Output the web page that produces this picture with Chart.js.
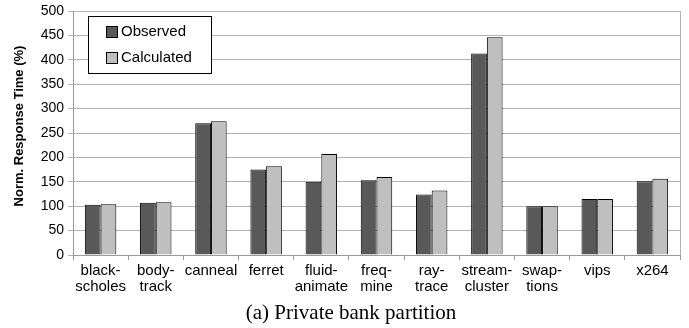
<!DOCTYPE html>
<html>
<head>
<meta charset="utf-8">
<script src="https://cdn.jsdelivr.net/npm/chart.js@4/dist/chart.umd.min.js"></script>
<style>
  html, body { margin: 0; padding: 0; background: #fff; }
  #wrap { width: 689px; height: 328px; position: relative; }
</style>
</head>
<body>
<div id="wrap"><canvas id="c" width="689" height="328"></canvas></div>
<script>
// Benchmarks (two-line labels as printed under the axis)
const benchmarks = [
  ["black-", "scholes"], ["body-", "track"], ["canneal"], ["ferret"],
  ["fluid-", "animate"], ["freq-", "mine"], ["ray-", "trace"],
  ["stream-", "cluster"], ["swap-", "tions"], ["vips"], ["x264"]
];
// Normalized response time (%) per benchmark
const observed   = [103, 107, 270, 175, 150, 153, 124, 413, 100, 115, 151];
const calculated = [104, 108, 274, 182, 207, 160, 132, 446, 100, 115, 156];
const yTicks = [0, 50, 100, 150, 200, 250, 300, 350, 400, 450, 500];

const labelFont = "'Liberation Sans', Arial, sans-serif";

// Boxed legend in the upper-left corner of the plot
const boxLegend = {
  id: 'boxLegend',
  afterDraw(chart) {
    const ctx = chart.ctx;
    const x0 = 88.5, y0 = 16.5, w = 123, h = 57;
    ctx.save();
    ctx.fillStyle = '#fff';
    ctx.fillRect(x0, y0, w, h);
    ctx.strokeStyle = '#000';
    ctx.lineWidth = 1;
    ctx.strokeRect(x0, y0, w, h);
    ctx.font = '15px ' + labelFont;
    ctx.textBaseline = 'middle';
    chart.data.datasets.forEach((ds, i) => {
      const cy = 32 + i * 26;
      ctx.fillStyle = ds.backgroundColor;
      ctx.fillRect(106.5, cy - 5.5, 11, 11);
      ctx.strokeRect(106.5, cy - 5.5, 11, 11);
      ctx.fillStyle = '#000';
      ctx.fillText(ds.label, 121, cy);
    });
    ctx.restore();
  }
};

// Vertical axis title and figure caption
const annotations = {
  id: 'annotations',
  afterDraw(chart) {
    const ctx = chart.ctx;
    ctx.save();
    ctx.fillStyle = '#000';
    ctx.textAlign = 'center';
    ctx.textBaseline = 'middle';
    ctx.font = 'bold 13px ' + labelFont;
    ctx.translate(19, 126);
    ctx.rotate(-Math.PI / 2);
    ctx.fillText('Norm. Response Time (%)', 0, 0);
    ctx.restore();

    ctx.save();
    ctx.font = "21px 'Liberation Serif', 'Times New Roman', serif";
    ctx.fillStyle = '#000';
    ctx.textAlign = 'center';
    ctx.textBaseline = 'alphabetic';
    ctx.fillText('(a) Private bank partition', 351, 319);
    ctx.restore();
  }
};

new Chart(document.getElementById('c'), {
  type: 'bar',
  data: {
    labels: benchmarks,
    datasets: [
      { label: 'Observed', data: observed, backgroundColor: '#595959',
        borderColor: '#000', borderWidth: 1 },
      { label: 'Calculated', data: calculated, backgroundColor: '#bfbfbf',
        borderColor: '#000', borderWidth: 1 }
    ]
  },
  options: {
    responsive: false,
    animation: false,
    events: [],
    layout: { padding: { left: 0, right: 9, top: 8, bottom: 0 } },
    datasets: { bar: { categoryPercentage: 0.57, barPercentage: 1.0 } },
    plugins: { legend: { display: false }, tooltip: { enabled: false } },
    scales: {
      x: {
        afterFit(s) { s.height = 73; },
        grid: { offset: true, drawOnChartArea: false, color: '#999', tickLength: 5 },
        border: { color: '#999' },
        ticks: { color: '#000', font: { family: labelFont, size: 15, lineHeight: 1.05 },
                 maxRotation: 0, autoSkip: false, padding: 3 }
      },
      y: {
        min: 0, max: 500,
        afterFit(s) { s.width = 73; },
        afterBuildTicks(s) { s.ticks = yTicks.map(v => ({ value: v })); },
        grid: { color: '#b3b3b3', tickLength: 5 },
        border: { color: '#999' },
        ticks: { color: '#000', font: { family: labelFont, size: 14, lineHeight: 1 }, padding: 4 }
      }
    }
  },
  plugins: [boxLegend, annotations, {
    id: 'rightBorder',
    afterDraw(chart) {
      const a = chart.chartArea, ctx = chart.ctx;
      ctx.save();
      ctx.strokeStyle = '#b3b3b3';
      ctx.beginPath();
      ctx.moveTo(a.right + 0.5, a.top);
      ctx.lineTo(a.right + 0.5, a.bottom);
      ctx.stroke();
      ctx.restore();
    }
  }]
});
</script>
</body>
</html>
